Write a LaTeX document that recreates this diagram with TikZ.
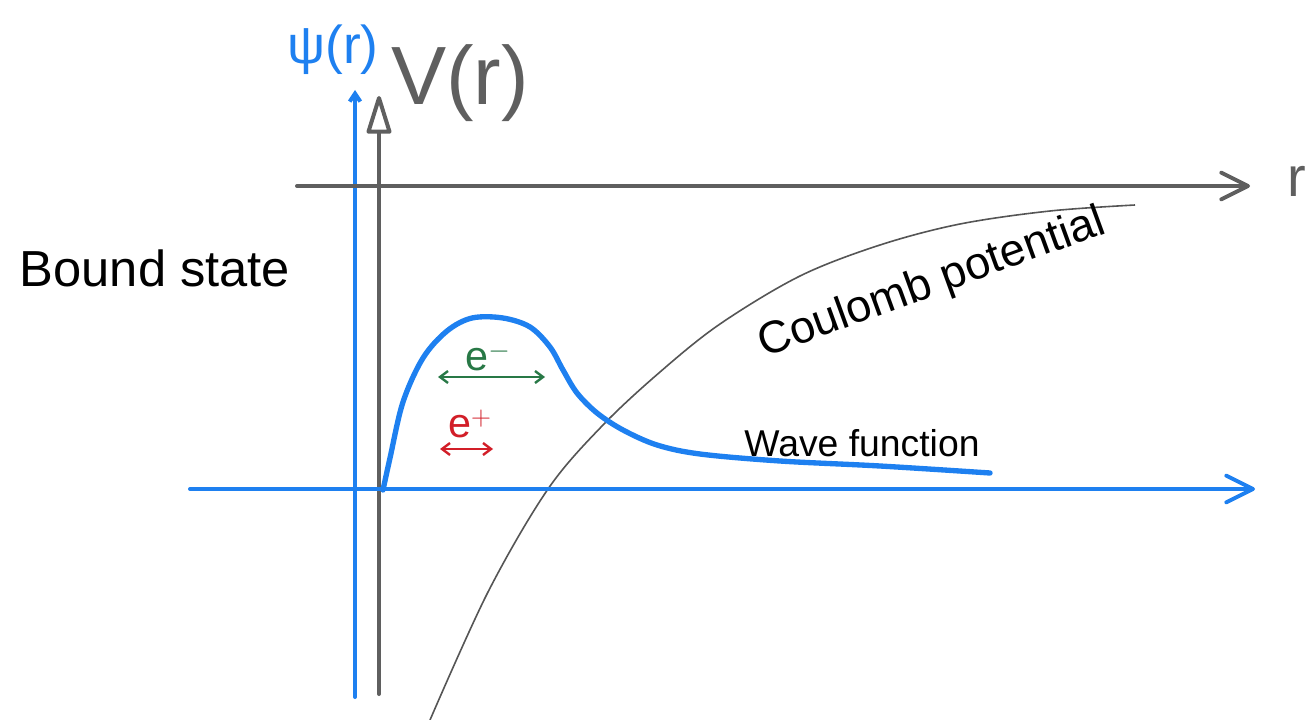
\documentclass[tikz,border=0pt]{standalone}
\usepackage{fontspec}
\setmainfont{Liberation Sans}
\usetikzlibrary{arrows.meta}
\definecolor{wblue}{RGB}{30,128,240}
\definecolor{agray}{RGB}{95,95,95}
\definecolor{cgray}{RGB}{85,85,85}
\definecolor{egreen}{RGB}{40,120,70}
\definecolor{ered}{RGB}{210,30,40}
\begin{document}
\begin{tikzpicture}[x=0.75pt,y=-0.75pt,
  bluel/.style={draw=wblue,line width=3pt,line cap=round},
  grayl/.style={draw=agray,line width=3pt,line cap=round},
  barb/.style={-{Straight Barb[length=20pt,width=20pt,line cap=round,line join=round]}},
  lbl/.style={inner sep=0pt}]
\useasboundingbox (0,0) rectangle (1309,720);
% axes
\coordinate (psiB) at (355,697);
\coordinate (psiT) at (355,90);
\coordinate (vB) at (379,694);
\coordinate (vT) at (379,96);
\coordinate (rL) at (297,186);
\coordinate (rR) at (1250,186);
\coordinate (bL) at (190,489);
\coordinate (bR) at (1255,489);
\draw[bluel,-{Straight Barb[length=6pt,width=8pt]}] (psiB) -- (psiT);
\draw[grayl,-{Triangle[open,length=32pt,width=19pt,line join=round]}] (vB) -- (vT);
\draw[grayl,barb] (rL) -- (rR);
% Coulomb potential
\draw[cgray,line width=1.2pt] plot[smooth,tension=0.55] coordinates
  {(430,720) (488,592) (548,489) (603,425) (660,372) (720,324) (800,276) (880,245) (960,224) (1050,211) (1135,205)};
\draw[bluel,barb] (bL) -- (bR);
% wave function
\draw[wblue,line width=4pt,line cap=round,line join=round] plot[smooth,tension=0.55] coordinates
  {(383,490) (390,458) (403,402) (423,358) (447,331) (472,318) (503,318) (530,327) (550,347) (563,370) (577,393) (597,413) (623,430) (657,445) (700,454) (780,461) (880,466) (990,473)};
% particles
\coordinate (emL) at (438,377);
\coordinate (emR) at (545,377);
\coordinate (epL) at (440,449);
\coordinate (epR) at (493,449);
\draw[egreen,line width=1.8pt,{Straight Barb[length=6pt,width=9pt]}-{Straight Barb[length=6pt,width=9pt]}] (emL) -- (emR);
\draw[ered,line width=1.8pt,{Straight Barb[length=6pt,width=9pt]}-{Straight Barb[length=6pt,width=9pt]}] (epL) -- (epR);
\node[lbl,text=egreen,font=\fontsize{31}{36}\selectfont] (em) at (488,357) {e$^{-}$};
\node[lbl,text=ered,font=\fontsize{31}{36}\selectfont] (ep) at (470,424) {e$^{+}$};
% labels
\node[lbl,font=\fontsize{38}{44}\selectfont] (bs) at (155,268) {Bound state};
\node[lbl,rotate=20,font=\fontsize{34}{40}\selectfont] (cp) at (932,284) {Coulomb potential};
\node[lbl,font=\fontsize{28}{33}\selectfont] (wf) at (862,443) {Wave function};
\node[lbl,text=wblue,font=\fontsize{40}{46}\selectfont] (psil) at (333,50) {ψ(r)};
\node[lbl,text=agray,font=\fontsize{62}{70}\selectfont] (vl) at (460,83) {V(r)};
\node[lbl,text=agray,font=\fontsize{42}{48}\selectfont] (rl) at (1297,181) {r};
\end{tikzpicture}
\end{document}
